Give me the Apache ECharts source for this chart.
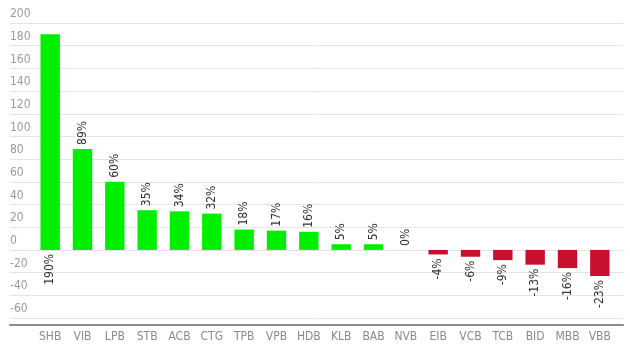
<!DOCTYPE html>
<html><head><meta charset="utf-8">
<script src="https://cdn.jsdelivr.net/npm/echarts@6/dist/echarts.min.js"></script>
<style>html,body{margin:0;padding:0;background:#fff}#c{width:630px;height:357px}</style>
</head><body><div id="c"></div>
<script>
const categories = ['SHB','VIB','LPB','STB','ACB','CTG','TPB','VPB','HDB','KLB','BAB','NVB','EIB','VCB','TCB','BID','MBB','VBB'];
const values = [190, 89, 60, 35, 34, 32, 18, 17, 16, 5, 5, 0, -4, -6, -9, -13, -16, -23];
const yMin = -60, yMax = 200, yStep = 20;
const FONT = '"DejaVu Sans Condensed", "Liberation Sans Narrow", "Open Sans", sans-serif';
const GREEN = '#00ee00', RED = '#c8102e';

const data = values.map((v, i) => {
  let lab;
  if (v >= 0 && v < 150) {
    lab = {position: 'top', align: 'left', verticalAlign: 'middle', distance: 4};
  } else {
    lab = {position: 'bottom', align: 'right', verticalAlign: 'middle', distance: 4};
  }
  return {value: v, itemStyle: {color: v >= 0 ? GREEN : RED}, label: lab};
});

const chart = echarts.init(document.getElementById('c'), null, {renderer: 'canvas'});
chart.setOption({
  animation: false,
  textStyle: {fontFamily: FONT},
  grid: [
    {left: 10, right: 7, top: 23, bottom: 39},
    {left: 34, right: 14, top: 23, bottom: 39}
  ],
  xAxis: [
    {type: 'category', gridIndex: 0, data: [''], offset: 7, position: 'bottom',
     axisLine: {show: true, onZero: false, lineStyle: {color: '#8c8c8c', width: 2}},
     axisTick: {show: false}, axisLabel: {show: false}, splitLine: {show: false}},
    {type: 'category', gridIndex: 1, data: categories,
     axisLine: {show: false, onZero: false}, axisTick: {show: false},
     axisLabel: {color: '#8a8a8a', fontSize: 12, margin: 13, fontFamily: FONT, interval: 0}}
  ],
  yAxis: [
    {type: 'value', gridIndex: 0, min: yMin, max: yMax, interval: yStep,
     axisLine: {show: false}, axisTick: {show: false},
     splitLine: {lineStyle: {color: '#e4e4e4', width: 1}},
     axisLabel: {inside: true, margin: 0, align: 'left', verticalAlign: 'bottom',
                 padding: [0, 0, 3, 0], color: '#9a9a9a', fontSize: 12, fontFamily: FONT}},
    {type: 'value', gridIndex: 1, min: yMin, max: yMax, interval: yStep, show: false,
     splitLine: {show: false}}
  ],
  series: [{
    type: 'bar', xAxisIndex: 1, yAxisIndex: 1, barWidth: '60%',
    data: data,
    label: {show: true, rotate: 90, formatter: p => p.value + '%', color: '#333',
            fontSize: 12, fontFamily: FONT}
  }]
});
</script></body></html>
